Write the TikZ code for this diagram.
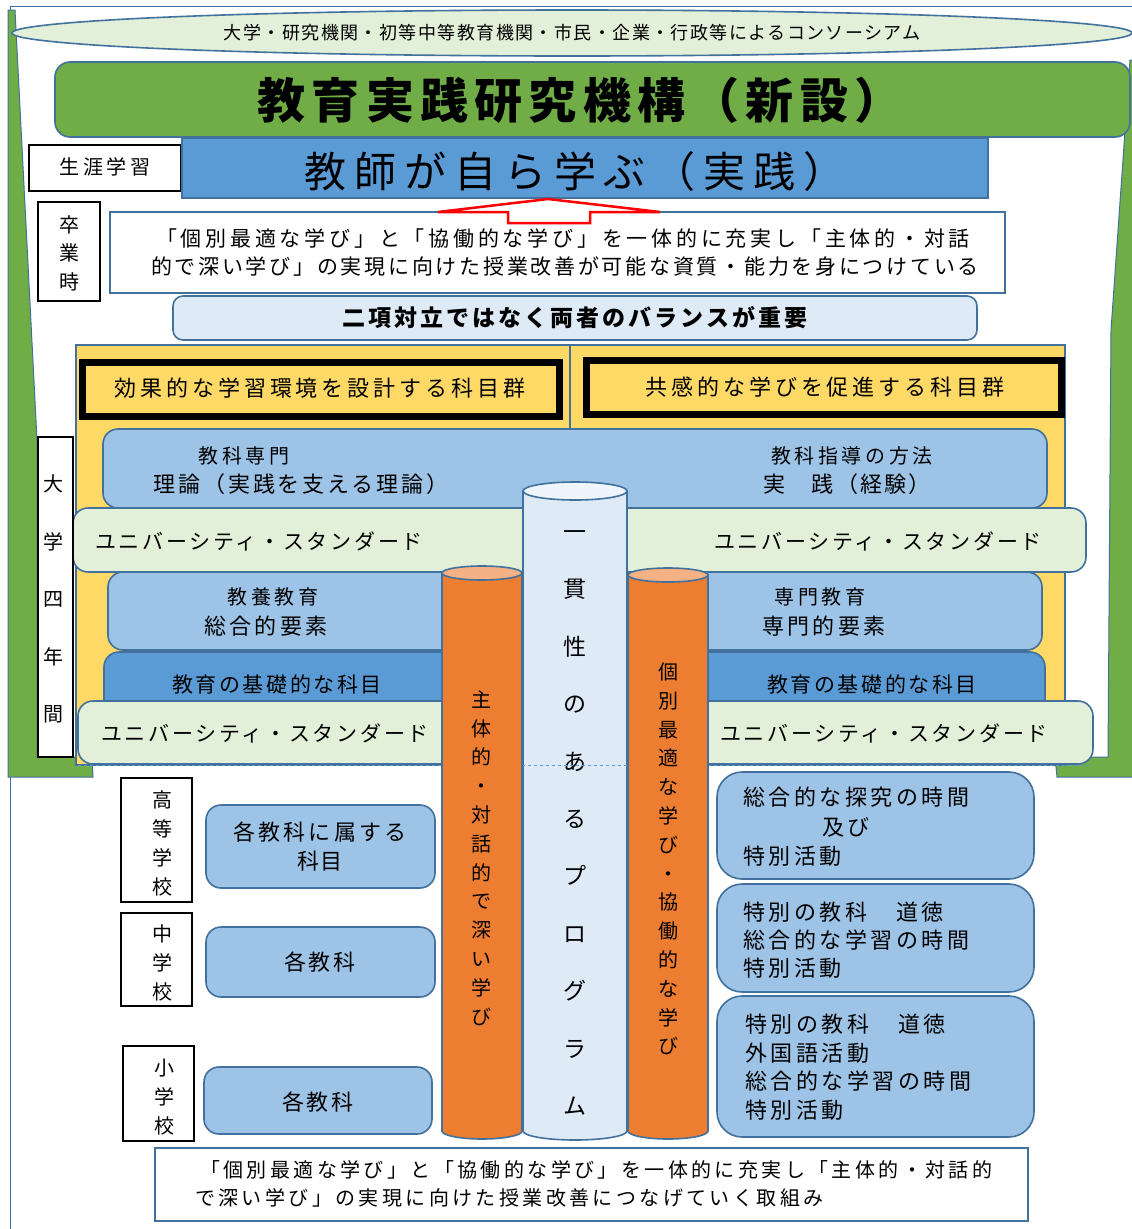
\documentclass[tikz,border=0pt]{standalone}
\usepackage{fontspec}
\setmainfont{Noto Sans CJK JP}
\definecolor{bordc}{HTML}{41719C}
\definecolor{grn}{HTML}{70AD47}
\definecolor{lgrn}{HTML}{E2F0D9}
\definecolor{blu}{HTML}{5B9BD5}
\definecolor{mblu}{HTML}{9DC3E6}
\definecolor{lblu}{HTML}{DEEBF7}
\definecolor{tblu}{HTML}{EEF5FC}
\definecolor{yel}{HTML}{FFD966}
\definecolor{org}{HTML}{ED7D31}
\definecolor{orgtop}{HTML}{F4B183}
% size and letter spacing
\newcommand{\jfs}[2]{\fontsize{#1}{#1}\selectfont\addfontfeature{LetterSpace=#2}}
\begin{document}
\begin{tikzpicture}[x=1pt,y=-1pt,
        bx/.style={draw=bordc,line width=1.6pt},
        rbx/.style={bx,rounded corners=15pt},
        lblbox/.style={draw=black,line width=1.4pt,fill=white},
        txt/.style={inner sep=0pt},
        vtxt/.style={inner sep=0pt,align=center},
        cylc/.style={draw=bordc,line width=1.6pt,fill=lblu},
        cylo/.style={draw=bordc,line width=1.6pt,fill=org}]
        \useasboundingbox (0,0) rectangle (1132,1229);
        \draw[bordc,line width=1pt] (10,1229) -- (10,6) -- (1132,6); % frame
        % green frame
        \draw[bordc,line width=1pt,fill=grn] (8,10) -- (15,10) -- (37,440) -- (37,757) -- (92,757) -- (93,777) -- (8,777) -- cycle;
        \draw[bordc,line width=1pt,fill=grn] (1134,60) -- (1130,60) -- (1111,330) -- (1108,757) -- (1055,757) -- (1057,777) -- (1134,777) -- cycle;
        % consortium
        \draw[bx,fill=lgrn] (572,33) ellipse[x radius=560,y radius=23];
        \node[txt,font=\jfs{18}{8}] (cons) at (572,33) {大学・研究機関・初等中等教育機関・市民・企業・行政等によるコンソーシアム};
        \draw[rbx,fill=grn] (55,62) rectangle (1130,137);
        \node[txt,font=\bfseries\jfs{48}{13}] (title) at (580,100) {教育実践研究機構（新設）};
        % lifelong learning
        \draw[lblbox] (29,145) rectangle (181,191);
        \node[txt,font=\jfs{20}{17}] (shogai) at (105,167) {生涯学習};
        \draw[bx,fill=blu] (182,138) rectangle (988,198);
        \node[txt,font=\jfs{42}{19}] (kyoshi) at (575,172) {教師が自ら学ぶ（実践）};
        % graduation
        \draw[lblbox] (38,202) rectangle (100,301);
        \node[vtxt,font=\fontsize{20}{28.5}\selectfont] (sotsu) at (69,253) {卒\\業\\時};
        \draw[bx,fill=white] (110,212) rectangle (1005,293);
        \node[txt,font=\jfs{21}{18}] (goal1) at (563,239) {「個別最適な学び」と「協働的な学び」を一体的に充実し「主体的・対話};
        \node[txt,font=\jfs{21}{13}] (goal2) at (565,267) {的で深い学び」の実現に向けた授業改善が可能な資質・能力を身につけている};
        \draw[red,line width=2.5pt,fill=white] (438,212) -- (548,199) -- (660,212) -- (590,212) -- (590,223) -- (508,223) -- (508,212) -- cycle;
        \draw[bx,fill=lblu,rounded corners=10pt] (173,296) rectangle (977,340);
        \node[txt,font=\bfseries\jfs{23}{13}] (balance) at (575,318) {二項対立ではなく両者のバランスが重要};
        % university
        \draw[bx,fill=yel] (76,345) rectangle (1065,765);
        \draw[bx] (570,345) -- (570,430);
        \draw[line width=7pt,fill=yel] (82,362) rectangle (559,416);
        \node[txt,font=\jfs{22}{18}] (kouka) at (320,388) {効果的な学習環境を設計する科目群};
        \draw[line width=7pt,fill=yel] (586,360) rectangle (1061,414);
        \node[txt,font=\jfs{22}{18}] (kyokan) at (825,387) {共感的な学びを促進する科目群};
        \draw[rbx,fill=mblu] (103,429) rectangle (1047,508);
        \node[txt,font=\jfs{20}{17}] (senmonA) at (244,456) {教科専門};
        \node[txt,font=\jfs{22}{13}] (riron) at (301,484) {理論（実践を支える理論）};
        \node[txt,font=\jfs{20}{18}] (shidou) at (852,456) {教科指導の方法};
        \node[txt,font=\jfs{22}{10}] (jissen) at (847,484) {実　践（経験）};
        \draw[rbx,fill=lgrn] (73,508) rectangle (1086,572);
        \node[txt,font=\jfs{21}{13}] (usL1) at (259,541) {ユニバーシティ・スタンダード};
        \node[txt,font=\jfs{21}{13}] (usR1) at (878,541) {ユニバーシティ・スタンダード};
        \draw[rbx,fill=mblu] (108,572) rectangle (470,650);
        \draw[rbx,fill=mblu] (680,572) rectangle (1042,650);
        \node[txt,font=\jfs{20}{17}] (kyouyou) at (273,597) {教養教育};
        \node[txt,font=\jfs{22}{15}] (sougou) at (266,626) {総合的要素};
        \node[txt,font=\jfs{20}{17}] (senmonB) at (820,597) {専門教育};
        \node[txt,font=\jfs{22}{15}] (senmonC) at (824,626) {専門的要素};
        \draw[rbx,fill=blu] (104,652) rectangle (470,720);
        \draw[rbx,fill=blu] (680,652) rectangle (1045,720);
        \node[txt,font=\jfs{21}{12}] (kisoL) at (277,684) {教育の基礎的な科目};
        \node[txt,font=\jfs{21}{12}] (kisoR) at (872,684) {教育の基礎的な科目};
        \draw[rbx,fill=lgrn] (78,701) rectangle (470,764);
        \draw[rbx,fill=lgrn] (680,701) rectangle (1093,764);
        \node[txt,font=\jfs{21}{13}] (usL2) at (265,733) {ユニバーシティ・スタンダード};
        \node[txt,font=\jfs{21}{13}] (usR2) at (884,733) {ユニバーシティ・スタンダード};
        \draw[lblbox] (38,437) rectangle (73,757);
        \node[vtxt,font=\fontsize{20}{57.5}\selectfont] (daigaku) at (53,599) {大\\学\\四\\年\\間};
        % pillars
        \draw[cylc] (523,491) -- (523,1131) arc[start angle=180,end angle=0,x radius=52,y radius=9] -- (627,491) -- cycle;
        \draw[cylc,fill=tblu] (575,491) ellipse[x radius=52,y radius=9];
        \node[vtxt,font=\fontsize{23}{57.4}\selectfont] (ikkan) at (575,823) {一\\貫\\性\\の\\あ\\る\\プ\\ロ\\グ\\ラ\\ム};
        \draw[blu,dashed,line width=1pt] (78,765) -- (1093,765);
        \draw[cylo] (442,573) -- (442,1131) arc[start angle=180,end angle=0,x radius=40,y radius=8] -- (522,573) -- cycle;
        \draw[cylo,fill=orgtop] (482,573) ellipse[x radius=40,y radius=7];
        \draw[cylo] (628,575) -- (628,1131) arc[start angle=180,end angle=0,x radius=40,y radius=8] -- (708,575) -- cycle;
        \draw[cylo,fill=orgtop] (668,575) ellipse[x radius=40,y radius=7];
        \node[vtxt,font=\fontsize{20}{28.8}\selectfont] (shutai) at (481,858) {主\\体\\的\\・\\対\\話\\的\\で\\深\\い\\学\\び};
        \node[vtxt,font=\fontsize{20}{28.8}\selectfont] (kobetsu) at (668,859) {個\\別\\最\\適\\な\\学\\び\\・\\協\\働\\的\\な\\学\\び};
        % schools
        \draw[lblbox] (121,778) rectangle (192,902);
        \node[vtxt,font=\fontsize{20}{29}\selectfont] (koukou) at (162,843) {高\\等\\学\\校};
        \draw[lblbox] (121,913) rectangle (192,1006);
        \node[vtxt,font=\fontsize{20}{29}\selectfont] (chuu) at (162,963) {中\\学\\校};
        \draw[lblbox] (123,1046) rectangle (194,1141);
        \node[vtxt,font=\fontsize{20}{29}\selectfont] (shou) at (164,1097) {小\\学\\校};
        \draw[rbx,fill=mblu] (206,805) rectangle (435,888);
        \node[txt,font=\jfs{22}{15}] (zokusu) at (320,832) {各教科に属する};
        \node[txt,font=\jfs{22}{8}] (kamoku) at (320,861) {科目};
        \draw[rbx,fill=mblu] (206,927) rectangle (435,997);
        \node[txt,font=\jfs{22}{12}] (kakuA) at (320,962) {各教科};
        \draw[rbx,fill=mblu] (204,1067) rectangle (432,1134);
        \node[txt,font=\jfs{22}{12}] (kakuB) at (318,1102) {各教科};
        \draw[rbx,fill=mblu,rounded corners=25pt] (717,772) rectangle (1034,879);
        \node[txt,anchor=west,font=\jfs{22}{16}] (hsA) at (743,797) {総合的な探究の時間};
        \node[txt,font=\jfs{22}{16}] (hsB) at (846,827) {及び};
        \node[txt,anchor=west,font=\jfs{22}{16}] (hsC) at (743,856) {特別活動};
        \draw[rbx,fill=mblu,rounded corners=25pt] (717,884) rectangle (1034,992);
        \node[txt,anchor=west,font=\jfs{22}{16}] (jhA) at (743,912) {特別の教科　道徳};
        \node[txt,anchor=west,font=\jfs{22}{16}] (jhB) at (743,940) {総合的な学習の時間};
        \node[txt,anchor=west,font=\jfs{22}{16}] (jhC) at (743,968) {特別活動};
        \draw[rbx,fill=mblu,rounded corners=25pt] (717,996) rectangle (1034,1137);
        \node[txt,anchor=west,font=\jfs{22}{16}] (esA) at (745,1024) {特別の教科　道徳};
        \node[txt,anchor=west,font=\jfs{22}{16}] (esB) at (745,1053) {外国語活動};
        \node[txt,anchor=west,font=\jfs{22}{16}] (esC) at (745,1081) {総合的な学習の時間};
        \node[txt,anchor=west,font=\jfs{22}{16}] (esD) at (745,1110) {特別活動};
        % closing
        \draw[bx,fill=white] (155,1148) rectangle (1028,1221);
        \node[txt,anchor=west,font=\jfs{20}{17}] (closeA) at (200,1170) {「個別最適な学び」と「協働的な学び」を一体的に充実し「主体的・対話的};
        \node[txt,anchor=west,font=\jfs{20}{17}] (closeB) at (195,1198) {で深い学び」の実現に向けた授業改善につなげていく取組み};
    \end{tikzpicture}
\end{document}
